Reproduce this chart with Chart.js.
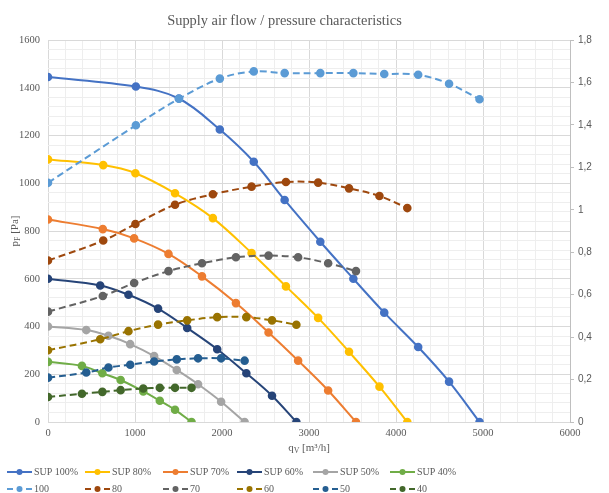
<!DOCTYPE html>
<html>
<head>
<meta charset="utf-8">
<script src="https://cdn.jsdelivr.net/npm/chart.js@4.4.1/dist/chart.umd.min.js"></script>
<style>
  body { margin: 0; background: #fff; }
  #myChart { display: block; }
</style>
</head>
<body>
<canvas id="myChart" width="609" height="493"></canvas>
<script>
const titulo = "Supply air flow / pressure characteristics";

// air flow q [m3/h] for each fan speed
const qSup100 = [0, 1010, 1505, 1975, 2365, 2720, 3130, 3510, 3865, 4255, 4610, 4960];
const qSup80 = [0, 635, 1005, 1460, 1895, 2340, 2735, 3105, 3460, 3810, 4130];
const qSup70 = [0, 630, 990, 1385, 1770, 2160, 2535, 2875, 3220, 3540];
const qSup60 = [0, 600, 925, 1265, 1600, 1945, 2280, 2575, 2855];
const qSup50 = [0, 440, 695, 945, 1220, 1480, 1725, 1990, 2260];
const qSup40 = [0, 390, 625, 835, 1095, 1285, 1460, 1650];

// pressure pF [Pa]
const pSup100 = [1445, 1405, 1355, 1225, 1090, 930, 755, 600, 458, 314, 169, 0];
const pSup80 = [1100, 1076, 1042, 958, 854, 708, 568, 436, 294, 148, 0];
const pSup70 = [848, 808, 769, 704, 610, 498, 375, 257, 132, 0];
const pSup60 = [600, 572, 533, 475, 394, 305, 204, 110, 0];
const pSup50 = [400, 385, 361, 326, 276, 218, 158, 85, 0];
const pSup40 = [252, 235, 204, 176, 128, 89, 51, 0];

// right axis values (dashed curves)
const val100 = [1.127, 1.398, 1.523, 1.618, 1.652, 1.644, 1.644, 1.644, 1.640, 1.636, 1.594, 1.521];
const val80 = [0.761, 0.855, 0.933, 1.024, 1.073, 1.109, 1.131, 1.128, 1.101, 1.065, 1.008];
const val70 = [0.520, 0.594, 0.655, 0.711, 0.748, 0.776, 0.784, 0.776, 0.748, 0.711];
const val60 = [0.338, 0.390, 0.428, 0.459, 0.479, 0.494, 0.494, 0.479, 0.458];
const val50 = [0.209, 0.233, 0.257, 0.270, 0.285, 0.295, 0.300, 0.300, 0.289];
const val40 = [0.118, 0.133, 0.142, 0.150, 0.158, 0.161, 0.161, 0.161];

const etiquetasSup = ["SUP 100%", "SUP 80%", "SUP 70%", "SUP 60%", "SUP 50%", "SUP 40%"];
const etiquetasVal = ["100", "80", "70", "60", "50", "40"];

const coloresSup = ["#4472C4", "#FFC000", "#ED7D31", "#264478", "#A5A5A5", "#70AD47"];
const coloresVal = ["#5B9BD5", "#9E480E", "#636363", "#997300", "#255E91", "#43682B"];

const grisTexto = "#595959";
const serif = "'Liberation Serif', 'Times New Roman', serif";

function puntos(xs, ys) {
  return xs.map((x, i) => ({ x: x, y: ys[i] }));
}

const seriesSup = [
  puntos(qSup100, pSup100),
  puntos(qSup80, pSup80),
  puntos(qSup70, pSup70),
  puntos(qSup60, pSup60),
  puntos(qSup50, pSup50),
  puntos(qSup40, pSup40),
];
const seriesVal = [
  puntos(qSup100, val100),
  puntos(qSup80, val80),
  puntos(qSup70, val70),
  puntos(qSup60, val60),
  puntos(qSup50, val50),
  puntos(qSup40, val40),
];

const datasets = [];
seriesSup.forEach((data, i) => {
  datasets.push({
    label: etiquetasSup[i],
    data: data,
    yAxisID: "y",
    borderColor: coloresSup[i],
    backgroundColor: coloresSup[i],
    pointBackgroundColor: coloresSup[i],
    pointBorderColor: coloresSup[i],
    borderWidth: 2,
    pointRadius: 3.3,
    tension: 0.35,
  });
});
seriesVal.forEach((data, i) => {
  datasets.push({
    label: etiquetasVal[i],
    data: data,
    yAxisID: "y1",
    borderColor: coloresVal[i],
    backgroundColor: coloresVal[i],
    pointBackgroundColor: coloresVal[i],
    pointBorderColor: coloresVal[i],
    borderWidth: 2,
    borderDash: [7, 4],
    pointRadius: 3.3,
    tension: 0.35,
  });
});
// later series on top, like the original
datasets.forEach((ds, i) => (ds.order = datasets.length - i));

const gridMayor = "#D9D9D9";
const gridMenor = "#EEEEEE";

function textoConSubindice(ctx, base, sub, resto, x, y, size) {
  const normal = `${size}px ${serif}`;
  const chico = `${size * 0.72}px ${serif}`;
  ctx.font = normal;
  const w1 = ctx.measureText(base).width;
  const w3 = ctx.measureText(resto).width;
  ctx.font = chico;
  const w2 = ctx.measureText(sub).width;
  let xi = x - (w1 + w2 + w3) / 2;
  ctx.textAlign = "left";
  ctx.font = normal;
  ctx.fillText(base, xi, y);
  ctx.font = chico;
  ctx.fillText(sub, xi + w1, y + size * 0.25);
  ctx.font = normal;
  ctx.fillText(resto, xi + w1 + w2, y);
}

const textosExtra = {
  id: "textosExtra",
  afterDraw(chart) {
    const ctx = chart.ctx;
    const area = chart.chartArea;
    ctx.save();
    ctx.fillStyle = grisTexto;
    ctx.textBaseline = "middle";

    ctx.font = `14.4px ${serif}`;
    ctx.textAlign = "center";
    ctx.fillText(titulo, 284.5, 21);

    textoConSubindice(ctx, "q", "V", " [m\u00B3/h]", (area.left + area.right) / 2, 448, 11);

    ctx.save();
    ctx.translate(15, (area.top + area.bottom) / 2);
    ctx.rotate(-Math.PI / 2);
    textoConSubindice(ctx, "p", "F", " [Pa]", 0, 0, 11);
    ctx.restore();

    // legend, two rows of six
    const columnas = [7, 85, 163, 237, 313, 390];
    const filas = [472, 489];
    chart.data.datasets.forEach((ds, i) => {
      const x0 = columnas[i % 6];
      const y = filas[i < 6 ? 0 : 1];
      ctx.strokeStyle = ds.borderColor;
      ctx.lineWidth = 2;
      ctx.setLineDash(ds.borderDash ? [6, 13] : []);
      ctx.beginPath();
      ctx.moveTo(x0, y);
      ctx.lineTo(x0 + 25, y);
      ctx.stroke();
      ctx.setLineDash([]);
      ctx.fillStyle = ds.pointBackgroundColor;
      ctx.beginPath();
      ctx.arc(x0 + 12.5, y, 3, 0, Math.PI * 2);
      ctx.fill();
      ctx.fillStyle = grisTexto;
      ctx.font = `10px ${serif}`;
      ctx.textAlign = "left";
      ctx.fillText(ds.label, x0 + 27, y);
    });
    ctx.restore();
  },
};

const config = {
  type: "line",
  data: { datasets: datasets },
  options: {
    responsive: false,
    animation: false,
    layout: { padding: { top: 40, left: 0, right: 0, bottom: 0 } },
    plugins: {
      legend: { display: false },
      title: { display: false },
      tooltip: { enabled: false },
    },
    scales: {
      x: {
        type: "linear",
        min: 0,
        max: 6000,
        ticks: {
          stepSize: 200,
          autoSkip: false,
          maxRotation: 0,
          padding: 5,
          color: grisTexto,
          font: { family: serif, size: 10.5 },
          callback: (v) => (v % 1000 === 0 ? v : ""),
        },
        grid: {
          color: (c) => (c.tick && c.tick.value % 1000 === 0 ? gridMayor : gridMenor),
          drawTicks: false,
        },
        border: { display: false },
        afterFit: (s) => {
          s.height = 71;
        },
      },
      y: {
        position: "left",
        min: 0,
        max: 1600,
        ticks: {
          stepSize: 40,
          autoSkip: false,
          padding: 8,
          color: grisTexto,
          font: { family: serif, size: 10.5 },
          callback: (v) => (v % 200 === 0 ? v : ""),
        },
        grid: {
          color: (c) => (c.tick && c.tick.value % 200 === 0 ? gridMayor : gridMenor),
          drawTicks: false,
        },
        border: { display: false },
        afterFit: (s) => {
          s.width = 48;
        },
      },
      y1: {
        position: "right",
        min: 0,
        max: 1.8,
        ticks: {
          stepSize: 0.2,
          padding: 4,
          color: grisTexto,
          font: { family: "'Liberation Sans', sans-serif", size: 10 },
          callback: (v) => String(Math.round(v * 10) / 10).replace(".", ","),
        },
        grid: {
          drawOnChartArea: false,
          drawTicks: true,
          tickLength: 4,
          color: "#BFBFBF",
        },
        border: { color: "#BFBFBF" },
        afterFit: (s) => {
          s.width = 39;
        },
      },
    },
  },
  plugins: [textosExtra],
};

const myChart = new Chart(document.getElementById("myChart"), config);
</script>
</body>
</html>
